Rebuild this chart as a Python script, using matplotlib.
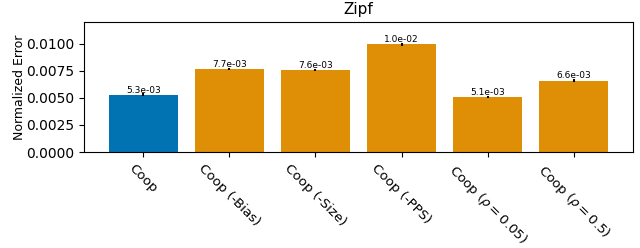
import matplotlib
matplotlib.use("Agg")
import matplotlib.pyplot as plt

categories = ["Coop", "Coop (-Bias)", "Coop (-Size)", "Coop (-PPS)",
              r"Coop ($\rho = 0.05$)", r"Coop ($\rho = 0.5$)"]
values = [0.0053, 0.0077, 0.0076, 0.00996, 0.0051, 0.0066]
errors = [0.00012, 0.00010, 0.00010, 0.00013, 0.00011, 0.00010]
colors = ["#0173B2", "#DE8F05", "#DE8F05", "#DE8F05", "#DE8F05", "#DE8F05"]

fig = plt.figure(figsize=(6.4, 2.48), dpi=100)
ax = fig.add_axes([84/640, 1-152/248, (633-84)/640, (152-22)/248])
x = range(len(categories))
bars = ax.bar(x, values, color=colors, yerr=errors, ecolor="black",
              error_kw=dict(elinewidth=1.5, capsize=0), width=0.8)
for xi, v in zip(x, values):
    ax.text(xi, v, f"{v:.1e}", ha="center", va="bottom", fontsize=6.5)
ax.set_ylim(0, 0.012)
ax.set_xticks(list(x))
ax.set_xticklabels(categories, rotation=-45, ha="center", fontsize=9.6)
ax.set_yticks([0, 0.0025, 0.005, 0.0075, 0.01])
ax.set_yticklabels(["0.0000", "0.0025", "0.0050", "0.0075", "0.0100"])
ax.set_ylabel("Normalized Error", fontsize=9, labelpad=0)
ax.set_title("Zipf", fontsize=11)
fig.savefig("out.png", dpi=100)
